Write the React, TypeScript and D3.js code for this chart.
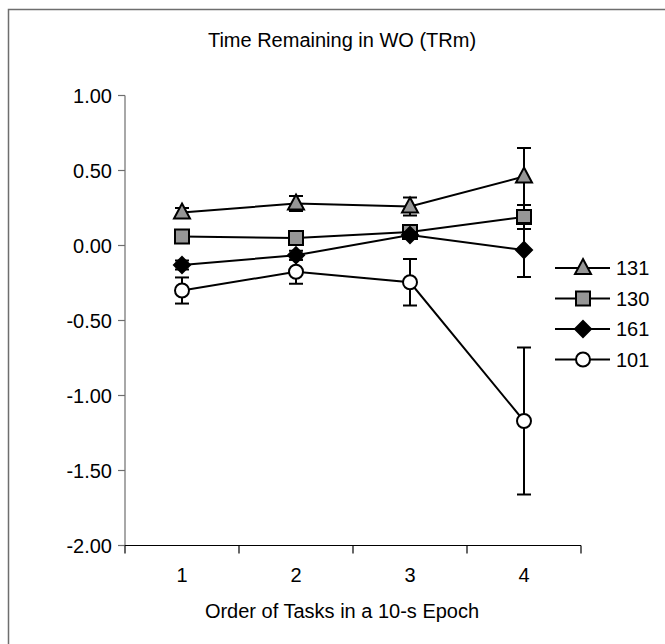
import React, { useEffect, useRef } from "react";
import * as d3 from "d3";

// categories on the x axis
const tasks = ["1", "2", "3", "4"];
const yTicks = [1, 0.5, 0, -0.5, -1, -1.5, -2];

// series values (mean) and error (+/-)
const names = ["131", "130", "161", "101"];
const markers = ["triangle", "square", "diamond", "circle"];
const fills = ["#969696", "#969696", "#000000", "#ffffff"];
const means131 = [0.22, 0.28, 0.26, 0.46];
const err131 = [0.03, 0.05, 0.06, 0.19];
const means130 = [0.06, 0.05, 0.09, 0.19];
const err130 = [0.02, 0.02, 0.02, 0.08];
const means161 = [-0.13, -0.065, 0.07, -0.03];
const err161 = [0.03, 0.03, 0.02, 0.18];
const means101 = [-0.3, -0.175, -0.245, -1.17];
const err101 = [0.087, 0.08, 0.155, 0.49];

const FONT = "'Liberation Sans', Arial, sans-serif";

const App = () => {
  const svgRef = useRef<SVGSVGElement | null>(null);

  useEffect(() => {
    const svg = d3.select(svgRef.current);
    svg.selectAll("*").remove();

    const left = 125;
    const right = 581;
    const top = 95.5;
    const bottom = 545.5;

    // chart border (runs off the right and bottom edges)
    svg
      .append("rect")
      .attr("x", 8.5)
      .attr("y", 9.5)
      .attr("width", 700)
      .attr("height", 700)
      .attr("fill", "#fff")
      .attr("stroke", "#6e6e6e")
      .attr("stroke-width", 1.5);

    const x = d3.scalePoint().domain(tasks).range([left, right]).padding(0.5);
    const y = d3.scaleLinear().domain([-2, 1]).range([bottom, top]);
    const step = x.step();

    // y axis
    const yAxis = svg.append("g").attr("transform", `translate(${left},0)`);
    yAxis
      .append("line")
      .attr("x1", 0)
      .attr("x2", 0)
      .attr("y1", top)
      .attr("y2", bottom)
      .attr("stroke", "#6e6e6e")
      .attr("stroke-width", 1.2);
    yTicks.forEach((t) => {
      yAxis
        .append("line")
        .attr("x1", -7)
        .attr("x2", 0)
        .attr("y1", y(t))
        .attr("y2", y(t))
        .attr("stroke", "#6e6e6e")
        .attr("stroke-width", 1.2);
      yAxis
        .append("text")
        .attr("x", -13)
        .attr("y", y(t))
        .attr("dy", "0.36em")
        .attr("text-anchor", "end")
        .attr("font-family", FONT)
        .attr("font-size", 20)
        .attr("fill", "#000")
        .text(d3.format(".2f")(t).replace("−", "-"));
    });

    // x axis
    const xAxis = svg.append("g").attr("transform", `translate(0,${bottom})`);
    xAxis
      .append("line")
      .attr("x1", left)
      .attr("x2", right)
      .attr("y1", 0)
      .attr("y2", 0)
      .attr("stroke", "#000")
      .attr("stroke-width", 1.2);
    d3.range(tasks.length + 1).forEach((i) => {
      xAxis
        .append("line")
        .attr("x1", left + i * step)
        .attr("x2", left + i * step)
        .attr("y1", 0)
        .attr("y2", 8)
        .attr("stroke", "#000")
        .attr("stroke-width", 1.2);
    });
    tasks.forEach((t) => {
      xAxis
        .append("text")
        .attr("x", x(t))
        .attr("y", 36)
        .attr("text-anchor", "middle")
        .attr("font-family", FONT)
        .attr("font-size", 20)
        .text(t);
    });

    svg
      .append("text")
      .attr("x", 342)
      .attr("y", 618)
      .attr("text-anchor", "middle")
      .attr("font-family", FONT)
      .attr("font-size", 20)
      .text("Order of Tasks in a 10-s Epoch");

    svg
      .append("text")
      .attr("x", 342)
      .attr("y", 47)
      .attr("text-anchor", "middle")
      .attr("font-family", FONT)
      .attr("font-size", 20)
      .text("Time Remaining in WO (TRm)");

    const drawMarker = (g, kind, cx, cy, fill) => {
      const base = g
        .append("path")
        .attr("fill", fill)
        .attr("stroke", "#000")
        .attr("stroke-width", 2)
        .attr("stroke-linejoin", "miter");
      if (kind === "triangle") {
        base.attr("d", `M${cx},${cy - 9}L${cx + 8},${cy + 6}L${cx - 8},${cy + 6}Z`);
      } else if (kind === "square") {
        base.attr("d", `M${cx - 7},${cy - 7}h14v14h-14Z`);
      } else if (kind === "diamond") {
        base.attr("d", `M${cx},${cy - 8}L${cx + 8},${cy}L${cx},${cy + 8}L${cx - 8},${cy}Z`);
      } else {
        base.attr(
          "d",
          d3.arc()({ innerRadius: 0, outerRadius: 7, startAngle: 0, endAngle: 2 * Math.PI }) || ""
        );
        base.attr("transform", `translate(${cx},${cy})`);
      }
    };

    const allMeans = [means131, means130, means161, means101];
    const allErr = [err131, err130, err161, err101];
    const line = d3
      .line<number>()
      .x((d, i) => x(tasks[i]) as number)
      .y((d) => y(d));

    // draw 101 first, 131 last
    [3, 1, 2, 0].forEach((s) => {
      const g = svg.append("g");
      const m = allMeans[s];
      const e = allErr[s];
      m.forEach((v, i) => {
        const cx = x(tasks[i]) as number;
        g.append("line")
          .attr("x1", cx)
          .attr("x2", cx)
          .attr("y1", y(v + e[i]))
          .attr("y2", y(v - e[i]))
          .attr("stroke", "#000")
          .attr("stroke-width", 2);
        [v + e[i], v - e[i]].forEach((c) => {
          g.append("line")
            .attr("x1", cx - 7)
            .attr("x2", cx + 7)
            .attr("y1", y(c))
            .attr("y2", y(c))
            .attr("stroke", "#000")
            .attr("stroke-width", 2);
        });
      });
      g.append("path")
        .attr("d", line(m))
        .attr("fill", "none")
        .attr("stroke", "#000")
        .attr("stroke-width", 2);
      m.forEach((v, i) => {
        drawMarker(g, markers[s], x(tasks[i]) as number, y(v), fills[s]);
      });
    });

    // legend
    const legend = svg.append("g").attr("transform", "translate(555,268)");
    names.forEach((n, i) => {
      const ly = i * 30.5;
      legend
        .append("line")
        .attr("x1", 0)
        .attr("x2", 55)
        .attr("y1", ly)
        .attr("y2", ly)
        .attr("stroke", "#000")
        .attr("stroke-width", 2);
      drawMarker(legend, markers[i], 28, ly, fills[i]);
      legend
        .append("text")
        .attr("x", 61)
        .attr("y", ly)
        .attr("dy", "0.36em")
        .attr("font-family", FONT)
        .attr("font-size", 20)
        .text(n);
    });
  }, []);

  return (
    <svg
      ref={svgRef}
      width={665}
      height={644}
      style={{ position: "absolute", left: 0, top: 0 }}
    ></svg>
  );
};

export default App;
